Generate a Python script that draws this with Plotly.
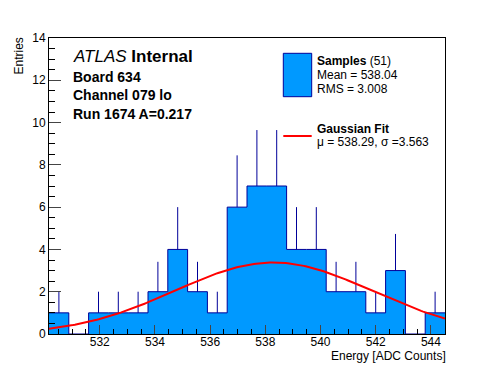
import numpy as np
import plotly.graph_objects as go

# ---- data ----
bin_start = 530.16
bin_width = 0.7175
counts = [1, 0, 1, 1, 1, 2, 4, 2, 1, 6, 7, 7, 4, 4, 2, 2, 1, 3, 0, 1]
fit_mu = 538.29
fit_sigma = 3.563
fit_amp = 3.38
x_ticks = [532, 534, 536, 538, 540, 542, 544]
y_ticks = [0, 2, 4, 6, 8, 10, 12, 14]

W, H = 496, 372
L, R, T, B = 49, 51, 38, 38
PW, PH = W - L - R, H - T - B

def px(x):
    return (x - L) / PW

def py(y):
    return (H - B - y) / PH

n = len(counts)
edges = [bin_start + i * bin_width for i in range(n + 1)]
centers = [bin_start + (i + 0.5) * bin_width for i in range(n)]
x_lo, x_hi = edges[0], edges[-1]

FILL = "#0099ff"
NAVY = "#000099"
FONT = "Liberation Sans, Arial, Helvetica, sans-serif"

fig = go.Figure()

# histogram fill + outline (step)
fig.add_trace(go.Scatter(
    x=edges, y=counts + [counts[-1]], mode="lines", line_shape="hv",
    fill="tozeroy", fillcolor=FILL, line=dict(color=NAVY, width=1),
    hoverinfo="skip", showlegend=False))

# error bars (upper half visible)
errs = [np.sqrt(c) for c in counts]
fig.add_trace(go.Scatter(
    x=centers, y=counts, mode="markers", marker=dict(opacity=0, size=1),
    error_y=dict(type="data", array=errs, arrayminus=[0] * n, symmetric=False,
                 width=0, color=NAVY, thickness=1),
    showlegend=False, hoverinfo="skip"))

# gaussian fit
xf = np.linspace(x_lo, x_hi, 200)
yf = fit_amp * np.exp(-0.5 * ((xf - fit_mu) / fit_sigma) ** 2)
fig.add_trace(go.Scatter(x=xf, y=yf, mode="lines",
                         line=dict(color="#ff0000", width=2),
                         showlegend=False, hoverinfo="skip"))

axis_common = dict(
    ticks="inside", showline=True, linecolor="black", linewidth=1,
    mirror=True, showgrid=False, zeroline=False,
    tickfont=dict(family=FONT, size=12, color="black"),
)
fig.update_xaxes(range=[x_lo, x_hi], tickvals=x_ticks, ticklen=9,
                 ticklabelstandoff=-3,
                 minor=dict(dtick=0.5, tick0=532, ticks="inside", ticklen=5,
                            tickcolor="black"),
                 **axis_common)
fig.update_yaxes(range=[0, 14], tickvals=y_ticks, ticklen=12,
                 minor=dict(dtick=0.5, tick0=0, ticks="inside", ticklen=6,
                            tickcolor="black"),
                 **axis_common)

ann = []
def text(x, y, s, size, xanchor="left"):
    ann.append(dict(x=px(x), y=py(y), xref="paper", yref="paper", text=s,
                    showarrow=False, xanchor=xanchor, yanchor="middle",
                    borderpad=0,
                    font=dict(family=FONT, size=size, color="black")))

text(72, 57, "<i>ATLAS</i> <b>Internal</b>", 17)
text(72, 77, "<b>Board 634</b>", 14)
text(72, 95, "<b>Channel 079 lo</b>", 14)
text(72, 114, "<b>Run 1674 A=0.217</b>", 14)

text(316, 61, "<b>Samples</b> (51)", 12)
text(316, 75, "Mean = 538.04", 12)
text(316, 89, "RMS = 3.008", 12)
text(316, 129, "<b>Gaussian Fit</b>", 12)
text(316, 142, "μ = 538.29, σ =3.563", 12)

# axis titles
ann.append(dict(x=px(447), y=py(356), xref="paper", yref="paper",
                text="Energy [ADC Counts]", showarrow=False, xanchor="right",
                yanchor="middle", borderpad=0,
                font=dict(family=FONT, size=12, color="black")))
ann.append(dict(x=px(18), y=py(37), xref="paper", yref="paper",
                text="Entries", showarrow=False, xanchor="center",
                yanchor="top", textangle=-90, borderpad=0,
                font=dict(family=FONT, size=12, color="black")))

shapes = [
    dict(type="rect", xref="paper", yref="paper", x0=px(283.3), x1=px(311.7),
         y0=py(96.7), y1=py(53.3), fillcolor=FILL, line=dict(color=NAVY, width=1)),
    dict(type="line", xref="paper", yref="paper", x0=px(283.3), x1=px(311.7),
         y0=py(136), y1=py(136), line=dict(color="#ff0000", width=2)),
]

fig.update_layout(width=W, height=H, margin=dict(l=L, r=R, t=T, b=B),
                  plot_bgcolor="white", paper_bgcolor="white",
                  annotations=ann, shapes=shapes, showlegend=False)

fig.write_html("out.html", config={"displayModeBar": False},
               post_script="document.body.style.margin='0';"
                           "document.body.style.overflow='hidden';")
